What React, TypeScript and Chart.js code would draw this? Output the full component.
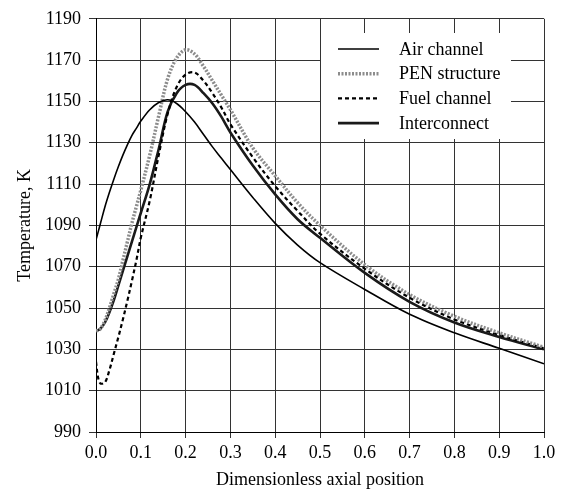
import React, { useEffect, useRef } from "react";
import { Chart, registerables } from "chart.js";

Chart.register(...registerables);

// Dimensionless axial position
const positions = [
  0, 0.005, 0.01, 0.02, 0.03, 0.04, 0.05, 0.06, 0.07, 0.08, 0.09, 0.1, 0.12, 0.14, 0.16,
  0.18, 0.2, 0.22, 0.24, 0.26, 0.28, 0.3, 0.35, 0.4, 0.45, 0.5, 0.6, 0.7, 0.8, 0.9, 1.0,
];

// Temperatures, K
const airChannel = [
  1083, 1087, 1091, 1099, 1106, 1112.5, 1118.5, 1124, 1129, 1133.5, 1137, 1140.5, 1146, 1149.5, 1150.8,
  1149, 1145, 1140, 1134, 1128, 1122.5, 1117, 1103.5, 1091, 1080.5, 1072, 1059, 1047, 1038, 1030.5, 1023,
];
const penStructure = [
  1039, 1039.3, 1040, 1044, 1050, 1057, 1064, 1073, 1082, 1091, 1099, 1107, 1124, 1143, 1161,
  1171, 1175, 1173, 1167, 1160, 1153, 1146, 1127.5, 1114, 1101, 1090, 1071, 1056.5, 1046, 1038, 1031,
];
const fuelChannel = [
  1024, 1016, 1013.5, 1014, 1020, 1028, 1036, 1044.5, 1053.5, 1063, 1073, 1084, 1102, 1124, 1144,
  1157, 1163, 1164, 1160, 1154, 1147, 1139, 1123, 1109, 1097, 1086, 1069, 1055, 1044.5, 1037, 1030.5,
];
const interconnect = [
  1039, 1039.3, 1040, 1043, 1048, 1054, 1061, 1068, 1075, 1082, 1089, 1096, 1110, 1127, 1145,
  1154, 1158, 1158, 1154, 1149, 1142.5, 1135, 1119, 1105, 1093, 1084, 1067, 1053, 1043, 1036, 1030,
];

const seriesNames = ["Air channel", "PEN structure", "Fuel channel", "Interconnect"];
const xTitle = "Dimensionless axial position";
const yTitle = "Temperature, K";
const yMin = 990;
const yMax = 1190;
const yStep = 20;
const xMin = 0;
const xMax = 1;
const xStep = 0.1;

const FONT = "'Liberation Serif', 'Times New Roman', Times, serif";

const toPoints = (vals: number[]) => positions.map((x, i) => ({ x, y: vals[i] }));

const insideLegend = {
  id: "insideLegend",
  afterDraw(chart: any) {
    const { ctx } = chart;
    ctx.save();
    ctx.fillStyle = "#ffffff";
    ctx.fillRect(321, 33, 190, 106);
    chart.data.datasets.forEach((ds: any, i: number) => {
      const y = 49 + i * 24.7;
      ctx.strokeStyle = ds.borderColor;
      ctx.lineWidth = ds.borderWidth;
      ctx.setLineDash(ds.borderDash || []);
      ctx.beginPath();
      ctx.moveTo(338, y);
      ctx.lineTo(379, y);
      ctx.stroke();
      ctx.setLineDash([]);
      ctx.fillStyle = "#000";
      ctx.font = `18px ${FONT}`;
      ctx.textAlign = "left";
      ctx.textBaseline = "middle";
      ctx.fillText(ds.label, 399, y + 1);
    });
    ctx.restore();
  },
};

export default function App() {
  const canvasRef = useRef<HTMLCanvasElement | null>(null);

  useEffect(() => {
    document.body.style.margin = "0";
    const canvas = canvasRef.current;
    if (!canvas) return;
    const common = { pointRadius: 0, tension: 0.35 };
    const chart = new Chart(canvas, {
      type: "line",
      data: {
        datasets: [
          {
            label: seriesNames[0],
            data: toPoints(airChannel),
            borderColor: "#000000",
            borderWidth: 1.6,
            ...common,
          },
          {
            label: seriesNames[1],
            data: toPoints(penStructure),
            borderColor: "#8c8c8c",
            borderWidth: 3.5,
            borderDash: [2, 1.5],
            ...common,
          },
          {
            label: seriesNames[2],
            data: toPoints(fuelChannel),
            borderColor: "#000000",
            borderWidth: 2.2,
            borderDash: [4, 3],
            ...common,
          },
          {
            label: seriesNames[3],
            data: toPoints(interconnect),
            borderColor: "#1a1a1a",
            borderWidth: 2.6,
            ...common,
          },
        ] as any,
      },
      options: {
        responsive: false,
        animation: false,
        devicePixelRatio: 1,
        layout: { padding: { top: 17, right: 19, left: 0, bottom: 0 } },
        plugins: {
          legend: { display: false },
          tooltip: { enabled: false },
        },
        scales: {
          x: {
            type: "linear",
            min: xMin,
            max: xMax,
            afterFit: (s: any) => {
              s.height = 59;
            },
            afterBuildTicks: (s: any) => {
              const t = [];
              for (let v = xMin; v <= xMax + 1e-9; v += xStep) t.push({ value: Math.round(v * 10) / 10 });
              s.ticks = t;
            },
            ticks: {
              color: "#000",
              font: { family: FONT, size: 18 },
              padding: 4,
              maxRotation: 0,
              autoSkip: false,
              callback: (v: any) => Number(v).toFixed(1),
            },
            grid: { color: "#333333", lineWidth: 1, tickLength: 6, drawTicks: true },
            border: { color: "#000", width: 1 },
            title: {
              display: true,
              text: xTitle,
              color: "#000",
              font: { family: FONT, size: 18 },
              padding: { top: 0, bottom: 0 },
            },
          },
          y: {
            type: "linear",
            min: yMin,
            max: yMax,
            afterFit: (s: any) => {
              s.width = 96;
            },
            ticks: {
              stepSize: yStep,
              color: "#000",
              font: { family: FONT, size: 18 },
              padding: 8,
              autoSkip: false,
              callback: (v: any) => String(Math.round(Number(v))),
            },
            grid: { color: "#333333", lineWidth: 1, tickLength: 7, drawTicks: true },
            border: { color: "#000", width: 1 },
            title: {
              display: true,
              text: yTitle,
              color: "#000",
              font: { family: FONT, size: 18 },
              padding: { top: 14, bottom: 0 },
            },
          },
        },
      },
      plugins: [insideLegend],
    });
    return () => chart.destroy();
  }, []);

  return (
    <div style={{ position: "absolute", left: 0, top: 0, width: 563, height: 491, background: "#fff" }}>
      <canvas ref={canvasRef} width={563} height={491} />
    </div>
  );
}
